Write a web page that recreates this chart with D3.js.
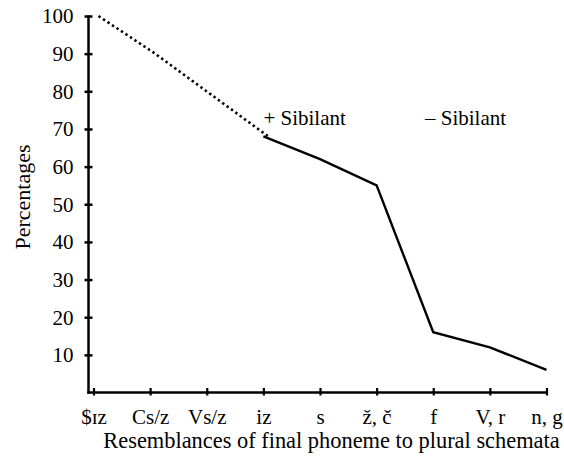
<!DOCTYPE html>
<html>
<head>
<meta charset="utf-8">
<script src="https://cdn.jsdelivr.net/npm/d3@7/dist/d3.min.js"></script>
<style>
  html, body { margin: 0; padding: 0; background: #fff; }
  svg { display: block; }
  text { font-family: "Liberation Serif", "Times New Roman", serif; fill: #000; }
</style>
</head>
<body>
<svg id="chart" width="564" height="461"></svg>
<script>
// ---- data ----
const categories = ["$\u026Az", "Cs/z", "Vs/z", "iz", "s", "\u017E, \u010D", "f", "V, r", "n, g"];
const percentages = [100, 90, 79, 68, 62, 55, 16, 12, 6];
const dottedCategories = ["$\u026Az", "Cs/z", "Vs/z", "iz"];
const solidCategories = ["iz", "s", "\u017E, \u010D", "f", "V, r", "n, g"];
const yTickValues = [10, 20, 30, 40, 50, 60, 70, 80, 90, 100];
const annotations = ["+ Sibilant", "\u2013 Sibilant"];
const xTitle = "Resemblances of final phoneme to plural schemata";
const yTitle = "Percentages";

// ---- layout ----
const FONT = '"Liberation Serif", "Times New Roman", serif';
const svg = d3.select("#chart");
const axisX = 88.5;
const x = d3.scalePoint().domain(categories).range([93.5, 546.5]);
const y = d3.scaleLinear().domain([0, 100]).range([392.5, 16]);

const data = categories.map((c, i) => ({ c, v: percentages[i] }));

// axes lines
svg.append("line")
  .attr("x1", axisX).attr("x2", axisX)
  .attr("y1", y(100) - 0.5).attr("y2", y(0) + 1.2)
  .attr("stroke", "#000").attr("stroke-width", 2.5);
svg.append("line")
  .attr("x1", axisX - 1.2).attr("x2", x(categories[categories.length - 1]) + 1)
  .attr("y1", y(0)).attr("y2", y(0))
  .attr("stroke", "#000").attr("stroke-width", 2.5);

// y axis
const yAxis = svg.append("g")
  .attr("transform", `translate(${axisX},0)`)
  .call(d3.axisLeft(y).tickValues(yTickValues).tickSize(0).tickPadding(15));
yAxis.attr("font-family", FONT).attr("font-size", 21);
yAxis.select(".domain").remove();
yAxis.selectAll(".tick line")
  .attr("x1", -4).attr("x2", 4)
  .attr("stroke", "#000").attr("stroke-width", 2.5);
yAxis.selectAll(".tick text")
  .attr("font-family", FONT)
  .attr("font-size", 21)
  .attr("dy", "0.33em");

// x axis
const xAxis = svg.append("g")
  .attr("transform", `translate(0,${y(0)})`)
  .call(d3.axisBottom(x).tickSize(0).tickPadding(17));
xAxis.attr("font-family", FONT).attr("font-size", 21);
xAxis.select(".domain").remove();
xAxis.selectAll(".tick line")
  .attr("y1", -4.5).attr("y2", 3)
  .attr("stroke", "#000").attr("stroke-width", 2.2);
xAxis.selectAll(".tick text")
  .attr("font-family", FONT)
  .attr("font-size", 21)
  .attr("dy", "0.71em");

// lines
const line = d3.line().x(d => x(d.c)).y(d => y(d.v));
svg.append("path")
  .datum(data.filter(d => dottedCategories.includes(d.c)))
  .attr("d", line)
  .attr("fill", "none")
  .attr("stroke", "#000")
  .attr("stroke-width", 2.6)
  .attr("stroke-dasharray", "2.4,3")
  .attr("transform", "translate(5,0)");
svg.append("path")
  .datum(data.filter(d => solidCategories.includes(d.c)))
  .attr("d", line)
  .attr("fill", "none")
  .attr("stroke", "#000")
  .attr("stroke-width", 2.4)
  .attr("stroke-linejoin", "miter");

// annotations
svg.append("text")
  .attr("x", x("iz")).attr("y", 125)
  .attr("font-family", FONT)
  .attr("font-size", 21)
  .text(annotations[0]);
svg.append("text")
  .attr("x", 425).attr("y", 125)
  .attr("font-family", FONT)
  .attr("font-size", 21)
  .text(annotations[1]);

// titles
svg.append("text")
  .attr("x", 331.5).attr("y", 448)
  .attr("text-anchor", "middle")
  .attr("font-family", FONT)
  .attr("font-size", 22.4)
  .text(xTitle);
svg.append("text")
  .attr("transform", "translate(30,197) rotate(-90)")
  .attr("text-anchor", "middle")
  .attr("font-family", FONT)
  .attr("font-size", 22)
  .text(yTitle);
</script>
</body>
</html>
